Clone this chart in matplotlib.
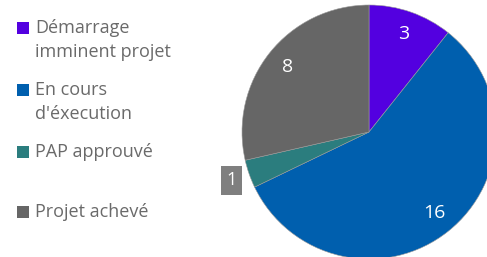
import numpy as np
import matplotlib
matplotlib.use("Agg")
import matplotlib.pyplot as plt

categories = ["Démarrage\nimminent projet", "En cours\nd'éxecution", "PAP approuvé", "Projet achevé"]
values = [3, 16, 1, 8]
colors = ["#5300e0", "#005fae", "#2b7d7e", "#666666"]

plt.rcParams['font.family'] = ['Open Sans', 'DejaVu Sans']

fig = plt.figure(figsize=(4.87, 2.57), dpi=100)
fig.patch.set_facecolor("white")

# pie axes: centre ~ (369, 132) px, radius ~127 px
W, H = 487, 257
cx, cy, r = 369, 132, 127
ax = fig.add_axes([(cx - r) / W, (H - cy - r) / H, 2 * r / W, 2 * r / H])
wedges, _ = ax.pie(values, colors=colors, startangle=90, counterclock=False,
                   radius=1, wedgeprops=dict(linewidth=0.4, edgecolor="#9a9a9a"))
ax.set_xlim(-1, 1)
ax.set_ylim(-1, 1)
ax.set_aspect('equal')
ax.axis('off')

for w, v in zip(wedges, values):
    ang = np.deg2rad((w.theta1 + w.theta2) / 2)
    if v / sum(values) < 0.05:
        d = 1.15
        ax.text(d * np.cos(ang), d * np.sin(ang), str(v), ha='center', va='center',
                fontsize=13, color='white',
                bbox=dict(boxstyle='square,pad=0.3', facecolor='#7f7f7f', edgecolor='none'))
    else:
        d = 0.82
        ax.text(d * np.cos(ang), d * np.sin(ang), str(v), ha='center', va='center',
                fontsize=14, color='white')

# legend drawn by hand
entry_y = [28, 90, 152, 212]
line_gap = 24
for lab, col, y in zip(categories, colors, entry_y):
    fig.patches.append(plt.Rectangle((17 / W, 1 - (y + 6) / H), 12 / W, 12 / H,
                                     transform=fig.transFigure, facecolor=col,
                                     edgecolor='none'))
    for i, line in enumerate(lab.split("\n")):
        fig.text(35 / W, 1 - (y + i * line_gap) / H, line, ha='left', va='center',
                 fontsize=13, color='#6a6a6a')

fig.savefig("out.png", dpi=100)
